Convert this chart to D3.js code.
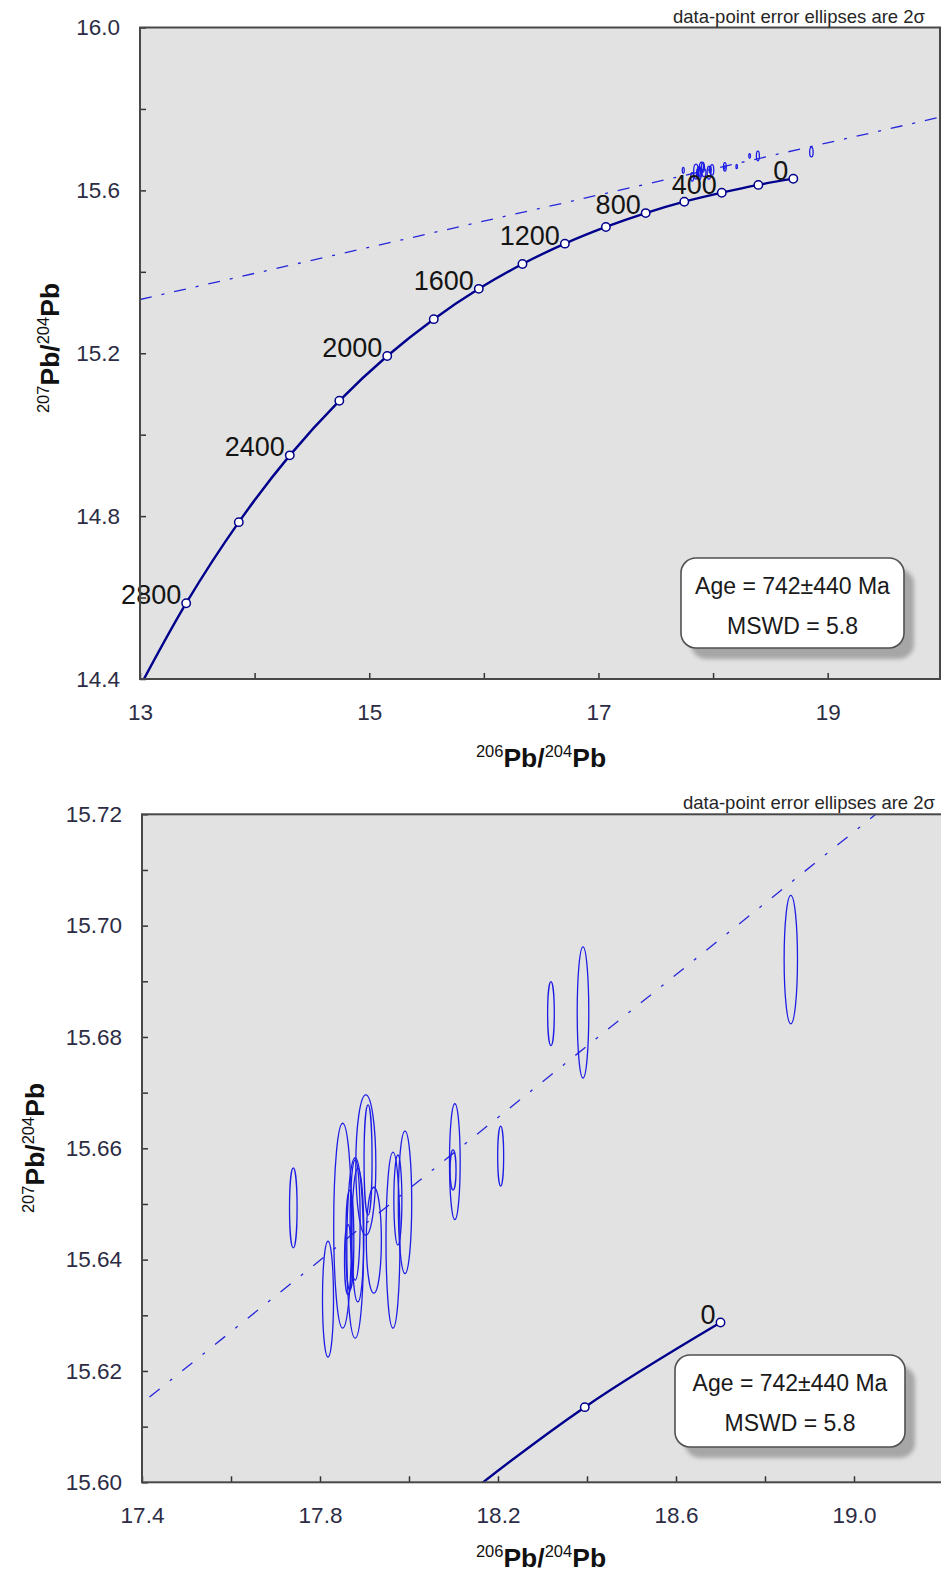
<!DOCTYPE html>
<html>
<head>
<meta charset="utf-8">
<script src="https://cdn.jsdelivr.net/npm/d3@7"></script>
<style>
  html, body { margin: 0; padding: 0; background: #ffffff; }
  svg { display: block; }
  text { font-family: "Liberation Sans", Arial, sans-serif; }
</style>
</head>
<body>
<svg id="chart" width="941" height="1577"></svg>
<script>
// ---------------- DATA ----------------
// Pb growth curve (age in Ma, 206Pb/204Pb, 207Pb/204Pb)
const curveAges = [0, 200, 400, 600, 800, 1000, 1200, 1400, 1600, 1800, 2000, 2200, 2400, 2600, 2800, 3000];
const curve206 = [18.700, 18.395, 18.076, 17.749, 17.412, 17.065, 16.707, 16.337, 15.956, 15.563, 15.157, 14.739, 14.307, 13.862, 13.403, 12.929];
const curve207 = [15.6287, 15.6135, 15.5943, 15.5722, 15.5442, 15.5102, 15.4692, 15.4192, 15.3582, 15.2837, 15.1932, 15.0832, 14.9492, 14.7852, 14.5862, 14.3442];
const labeledAges = [0, 400, 800, 1200, 1600, 2000, 2400, 2800];

// Isochron end points
const isoX = [13.0, 20.0];
const isoY = [15.332, 15.781];

// Data-point 2-sigma error ellipses: centre and half-axes
const ellX  = [17.818, 17.851, 17.879, 17.903, 17.921, 17.964, 17.991, 18.103, 18.099, 17.867, 17.879, 17.885, 17.863, 17.908, 17.975, 18.319, 18.391, 18.858, 18.206, 17.740];
const ellY  = [15.6329, 15.6461, 15.6421, 15.6570, 15.6435, 15.6435, 15.6503, 15.6576, 15.6561, 15.6435, 15.6471, 15.6444, 15.6400, 15.6579, 15.6507, 15.6842, 15.6844, 15.6939, 15.6586, 15.6493];
const ellSX = [0.0124, 0.0202, 0.0187, 0.0225, 0.0169, 0.0157, 0.0151, 0.0120, 0.0067, 0.0090, 0.0112, 0.0135, 0.0079, 0.0090, 0.0090, 0.0075, 0.0130, 0.0150, 0.0067, 0.0085];
const ellSY = [0.0104, 0.0184, 0.0162, 0.0126, 0.0095, 0.0158, 0.0128, 0.0104, 0.0036, 0.0090, 0.0108, 0.0120, 0.0063, 0.0099, 0.0081, 0.00575, 0.0118, 0.01155, 0.0054, 0.0072];

// Axis ticks
const topXTicks = [13, 14, 15, 16, 17, 18, 19];
const topXLabels = ["13", "", "15", "", "17", "", "19"];
const topYTicks = [14.4, 14.6, 14.8, 15.0, 15.2, 15.4, 15.6, 15.8, 16.0];
const topYLabels = ["14.4", "", "14.8", "", "15.2", "", "15.6", "", "16.0"];
const botXTicks = [17.4, 17.6, 17.8, 18.0, 18.2, 18.4, 18.6, 18.8, 19.0];
const botXLabels = ["17.4", "", "17.8", "", "18.2", "", "18.6", "", "19.0"];
const botYTicks = [15.60, 15.61, 15.62, 15.63, 15.64, 15.65, 15.66, 15.67, 15.68, 15.69, 15.70, 15.71, 15.72];
const botYLabels = ["15.60", "", "15.62", "", "15.64", "", "15.66", "", "15.68", "", "15.70", "", "15.72"];

const statsLines = ["Age = 742\u00b1440 Ma", "MSWD = 5.8"];
const noteText = "data-point error ellipses are 2\u03c3";

// ---------------- DRAWING ----------------
const svg = d3.select("#chart");
const defs = svg.append("defs");
const blur = defs.append("filter").attr("id", "shadowBlur").attr("x", "-10%").attr("y", "-10%").attr("width", "130%").attr("height", "130%");
blur.append("feGaussianBlur").attr("stdDeviation", 2.2);

const curvePts = curveAges.map((a, i) => ({age: a, x: curve206[i], y: curve207[i]}));
const ellipses = ellX.map((x, i) => ({x: x, y: ellY[i], sx: ellSX[i], sy: ellSY[i]}));
const isoPts = isoX.map((x, i) => ({x: x, y: isoY[i]}));

function panel(cfg) {
  const x = d3.scaleLinear().domain(cfg.xDomain).range(cfg.xRange);
  const y = d3.scaleLinear().domain(cfg.yDomain).range(cfg.yRange);
  const g = svg.append("g");
  const left = cfg.xRange[0], right = cfg.xRange[1], top = cfg.yRange[1], bottom = cfg.yRange[0];

  const clipId = "clip" + cfg.id;
  defs.append("clipPath").attr("id", clipId)
    .append("rect").attr("x", left).attr("y", top).attr("width", right - left).attr("height", bottom - top);

  // background
  g.append("rect").attr("x", left).attr("y", top).attr("width", right - left).attr("height", bottom - top)
    .attr("fill", "#e2e2e2");

  const plot = g.append("g").attr("clip-path", `url(#${clipId})`);

  // isochron
  plot.append("path").datum(isoPts)
    .attr("d", d3.line().x(d => x(d.x)).y(d => y(d.y)))
    .attr("fill", "none").attr("stroke", "#2626dc").attr("stroke-width", 1.3)
    .attr("stroke-dasharray", cfg.dash);

  // ellipses
  plot.selectAll("ellipse.data").data(ellipses).enter().append("ellipse")
    .attr("class", "data")
    .attr("cx", d => x(d.x)).attr("cy", d => y(d.y))
    .attr("rx", d => Math.max(0.6, x(d.x + d.sx) - x(d.x)))
    .attr("ry", d => y(d.y - d.sy) - y(d.y))
    .attr("fill", "none").attr("stroke", "#1c1ce6").attr("stroke-width", 1.3);

  // growth curve
  plot.append("path").datum(curvePts)
    .attr("d", d3.line().curve(d3.curveCatmullRom.alpha(0.5)).x(d => x(d.x)).y(d => y(d.y)))
    .attr("fill", "none").attr("stroke", "#00008c").attr("stroke-width", 2.4);

  plot.selectAll("circle.mk").data(curvePts).enter().append("circle")
    .attr("class", "mk")
    .attr("cx", d => x(d.x)).attr("cy", d => y(d.y)).attr("r", 4.2)
    .attr("fill", "#ffffff").attr("stroke", "#00008c").attr("stroke-width", 1.5);

  // age labels
  const inDom = d => d.x >= cfg.xDomain[0] && d.x <= cfg.xDomain[1] && d.y >= cfg.yDomain[0] && d.y <= cfg.yDomain[1];
  g.selectAll("text.age").data(curvePts.filter(d => labeledAges.includes(d.age) && inDom(d))).enter()
    .append("text").attr("class", "age")
    .attr("x", d => x(d.x) - 5).attr("y", d => y(d.y) + 1)
    .attr("text-anchor", "end").attr("font-size", 27).attr("fill", "#141414")
    .text(d => d.age);

  // axes
  const xAxis = d3.axisBottom(x).tickValues(cfg.xTicks).tickSizeInner(-6).tickSizeOuter(0).tickPadding(25)
    .tickFormat((d, i) => cfg.xLabels[i]);
  const yAxis = d3.axisLeft(y).tickValues(cfg.yTicks).tickSizeInner(-6).tickSizeOuter(0).tickPadding(20)
    .tickFormat((d, i) => cfg.yLabels[i]);
  const gx = g.append("g").attr("transform", `translate(0,${bottom})`).call(xAxis);
  const gy = g.append("g").attr("transform", `translate(${left},0)`).call(yAxis);
  [gx, gy].forEach(ax => {
    ax.select(".domain").remove();
    ax.selectAll(".tick line").attr("stroke", "#333333").attr("stroke-width", 1.5);
    ax.selectAll(".tick text").attr("font-size", 22.5).attr("fill", "#2c2c44")
      .style("font-family", '"Liberation Sans", Arial, sans-serif');
  });

  // frame
  g.append("rect").attr("x", left).attr("y", top).attr("width", right - left).attr("height", bottom - top)
    .attr("fill", "none").attr("stroke", "#484848").attr("stroke-width", 2);

  // note
  g.append("text").attr("x", cfg.noteX).attr("y", top - 5).attr("text-anchor", "end")
    .attr("font-size", 18.5).attr("fill", "#262626").text(noteText);

  // stats box
  const b = cfg.box;
  g.append("rect").attr("x", b.x + 10).attr("y", b.y + 11).attr("width", b.w).attr("height", b.h).attr("rx", 15)
    .attr("fill", "#a6a6a6").attr("filter", "url(#shadowBlur)");
  g.append("rect").attr("x", b.x).attr("y", b.y).attr("width", b.w).attr("height", b.h).attr("rx", 15)
    .attr("fill", "#ffffff").attr("stroke", "#505050").attr("stroke-width", 1.6);
  g.selectAll("text.stat").data(statsLines).enter().append("text").attr("class", "stat")
    .attr("x", b.x + b.w / 2).attr("y", (d, i) => b.y + 36 + i * 40)
    .attr("text-anchor", "middle").attr("font-size", 23).attr("fill", "#1a1a1a")
    .text(d => d);

  // x axis title
  const xt = g.append("text").attr("x", cfg.xTitle[0]).attr("y", cfg.xTitle[1]).attr("text-anchor", "middle").attr("fill", "#111");
  addIso(xt);
  // y axis title
  const yt = g.append("text").attr("transform", `translate(${cfg.yTitle[0]},${cfg.yTitle[1]}) rotate(-90)`)
    .attr("text-anchor", "middle").attr("fill", "#111");
  addIso(yt, true);
}

function addIso(t, y207) {
  const parts = y207 ? [["207", true], ["Pb/", false], ["204", true], ["Pb", false]]
                     : [["206", true], ["Pb/", false], ["204", true], ["Pb", false]];
  let prevSup = false;
  parts.forEach(([s, sup]) => {
    const ts = t.append("tspan").text(s);
    if (sup) {
      ts.attr("font-size", 16.5).attr("font-weight", "normal").attr("dy", prevSup ? 0 : -10);
    } else {
      ts.attr("font-size", 26.5).attr("font-weight", "bold").attr("dy", prevSup ? 10 : 0);
    }
    prevSup = sup;
  });
}

panel({
  id: "top",
  xDomain: [13, 19.98], xRange: [140, 940],
  yDomain: [14.4, 16.0], yRange: [679, 27.5],
  xTicks: topXTicks, xLabels: topXLabels, yTicks: topYTicks, yLabels: topYLabels,
  dash: "12,10,3,10",
  noteX: 925,
  box: {x: 681, y: 558, w: 223, h: 90},
  xTitle: [541, 767], yTitle: [59, 348]
});

panel({
  id: "bot",
  xDomain: [17.4, 19.2], xRange: [142, 943],
  yDomain: [15.60, 15.72], yRange: [1482.3, 814.3],
  xTicks: botXTicks, xLabels: botXLabels, yTicks: botYTicks, yLabels: botYLabels,
  dash: "13,13,3,13",
  noteX: 935,
  box: {x: 675, y: 1355, w: 230, h: 92},
  xTitle: [541, 1567], yTitle: [44, 1148]
});
</script>
</body>
</html>
